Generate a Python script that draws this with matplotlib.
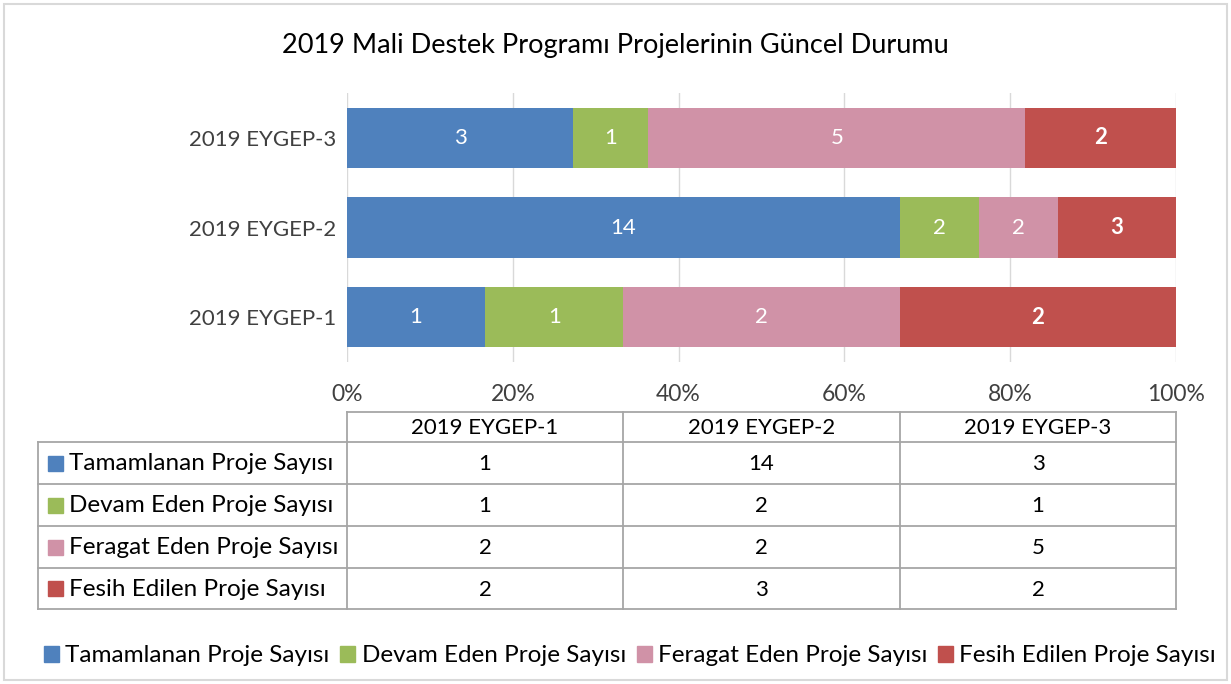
import numpy as np
import matplotlib.pyplot as plt
from matplotlib.patches import Rectangle, Patch

plt.rcParams['font.family'] = ['Lato', 'DejaVu Sans']

# veriler
programs = ['2019 EYGEP-1', '2019 EYGEP-2', '2019 EYGEP-3']
series = ['Tamamlanan Proje Sayısı', 'Devam Eden Proje Sayısı',
          'Feragat Eden Proje Sayısı', 'Fesih Edilen Proje Sayısı']
tamamlanan = [1, 14, 3]
devam = [1, 2, 1]
feragat = [2, 2, 5]
fesih = [2, 3, 2]
colors = ['#4F81BD', '#9BBB59', '#D092A7', '#C0504D']
pct_ticks = ['0%', '20%', '40%', '60%', '80%', '100%']

values = np.array([tamamlanan, devam, feragat, fesih], dtype=float)
totals = values.sum(axis=0)
shares = values / totals

W, H = 1231, 684
fig = plt.figure(figsize=(W / 100, H / 100), dpi=100)

# arka plan / tablo için piksel koordinatlı eksen
bg = fig.add_axes([0, 0, 1, 1])
bg.set_xlim(0, W)
bg.set_ylim(H, 0)
bg.axis('off')

# grafik alanı
ax = fig.add_axes([347 / W, 1 - 362 / H, (1176 - 347) / W, (362 - 93) / H])
y = np.arange(len(programs))
left = np.zeros(len(programs))
for i, name in enumerate(series):
    ax.barh(y, shares[i], left=left, height=0.67, color=colors[i], label=name, zorder=2)
    for j in range(len(programs)):
        bold = (i == 3)
        ax.text(left[j] + shares[i][j] / 2, y[j], str(int(values[i][j])),
                ha='center', va='center', color='white', fontsize=16,
                fontweight='bold' if bold else 'normal', zorder=3)
    left += shares[i]

ax.set_xlim(0, 1)
ax.set_ylim(-0.5, 2.5)
ax.set_xticks(np.linspace(0, 1, 6))
ax.set_xticklabels(pct_ticks, fontsize=16.5, color='#404040')
ax.set_yticks(y)
ax.set_yticklabels(programs, fontsize=16, color='#404040')
ax.tick_params(length=0, pad=8)
ax.tick_params(axis='x', pad=16)
ax.grid(axis='x', color='#D9D9D9', linewidth=1, zorder=0)
for s in ax.spines.values():
    s.set_visible(False)

fig.text(0.5, 1 - 45 / H, '2019 Mali Destek Programı Projelerinin Güncel Durumu',
         ha='center', va='center', fontsize=19.5, color='black')

# veri tablosu
line_c = '#A6A6A6'
col_x = [347, 623, 900, 1176]
row_y = [412, 442, 484, 526, 568, 609]
lbl_x0 = 38
bg.plot([col_x[0], col_x[-1]], [row_y[0], row_y[0]], color=line_c, lw=1.3)
for yy in row_y[1:]:
    bg.plot([lbl_x0, col_x[-1]], [yy, yy], color=line_c, lw=1.3)
bg.plot([lbl_x0, lbl_x0], [row_y[1], row_y[-1]], color=line_c, lw=1.3)
for xx in col_x:
    bg.plot([xx, xx], [row_y[0], row_y[-1]], color=line_c, lw=1.3)

for j, p in enumerate(programs):
    bg.text((col_x[j] + col_x[j + 1]) / 2, (row_y[0] + row_y[1]) / 2 + 1, p,
            ha='center', va='center', fontsize=16, color='black')
for i, name in enumerate(series):
    yc = (row_y[i + 1] + row_y[i + 2]) / 2
    bg.add_patch(Rectangle((48, yc - 7.5), 15, 15, color=colors[i]))
    bg.text(69, yc + 1, name, ha='left', va='center', fontsize=17.5, color='black')
    for j in range(len(programs)):
        bg.text((col_x[j] + col_x[j + 1]) / 2, yc + 1, str(int(values[i][j])),
                ha='center', va='center', fontsize=16, color='black')

# dış çerçeve
bg.add_patch(Rectangle((4, 4), W - 8, H - 8, fill=False, edgecolor='#D9D9D9', lw=1.5))

# alt lejant
handles = [Patch(color=c, label=n) for c, n in zip(colors, series)]
fig.legend(handles=handles, loc='center', bbox_to_anchor=(630 / W, 1 - 656 / H), ncol=4,
           frameon=False, fontsize=17.5, handlelength=0.62, handleheight=0.62,
           handletextpad=0.25, columnspacing=0.45, borderpad=0)

fig.savefig('out.png', dpi=100)
